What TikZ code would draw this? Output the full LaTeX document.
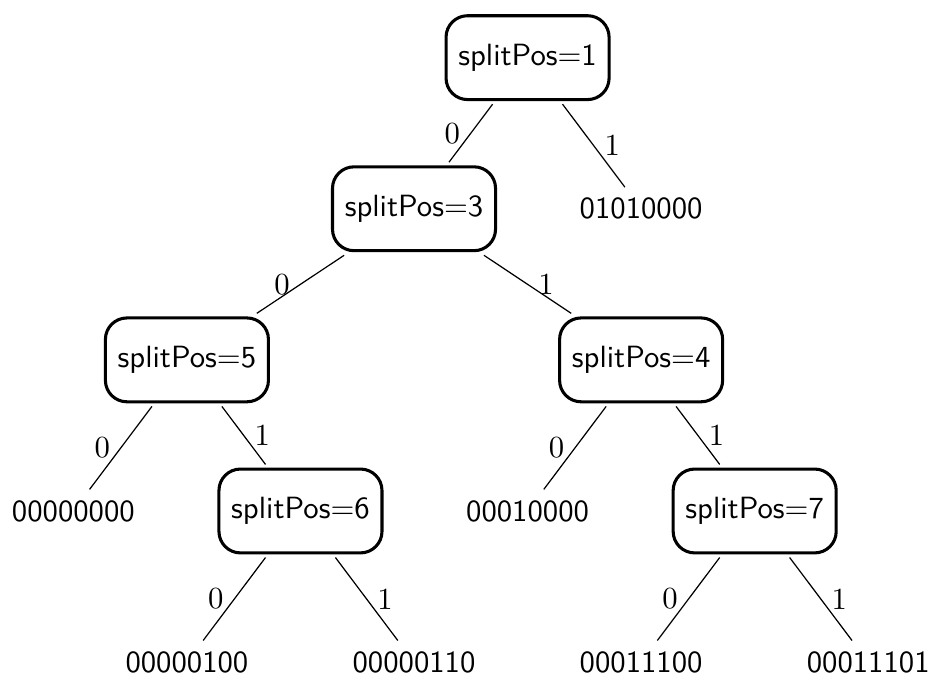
\documentclass[tikz,border=0pt]{standalone}
\usepackage{tikz}
\tikzset{
  splitbox/.style={draw,line width=1pt,rounded corners=7pt,font=\sffamily,
    inner xsep=4pt,minimum height=9.6mm,outer sep=1.5pt},
  leafword/.style={font=\sffamily}
}
\begin{document}
\begin{tikzpicture}[x=1mm,y=1mm]
  \useasboundingbox (0,0) rectangle (106.7,-77.4);
  % split nodes
  \foreach \x/\y/\p in {60.4/-6.6/1,47.4/-23.9/3,21.4/-41.2/5,73.4/-41.2/4,34.4/-58.5/6,86.4/-58.5/7}
    \node[splitbox] (s\p) at (\x,\y) {splitPos=\p};
  % leaves
  \foreach \x/\y/\w in {73.4/-23.9/01010000,8.4/-58.5/00000000,60.4/-58.5/00010000,
      21.4/-75.8/00000100,47.4/-75.8/00000110,73.4/-75.8/00011100,99.4/-75.8/00011101}
    \node[leafword] (w\w) at (\x,\y) {\w};
  % branches
  \foreach \a/\b in {s1/s3,s3/s5,s5/w00000000,s6/w00000100,s4/w00010000,s7/w00011100}
    \draw (\a) -- node[left]{0} (\b);
  \foreach \a/\b in {s1/w01010000,s3/s4,s5/s6,s6/w00000110,s4/s7,s7/w00011101}
    \draw (\a) -- node[right]{1} (\b);
\end{tikzpicture}
\end{document}
